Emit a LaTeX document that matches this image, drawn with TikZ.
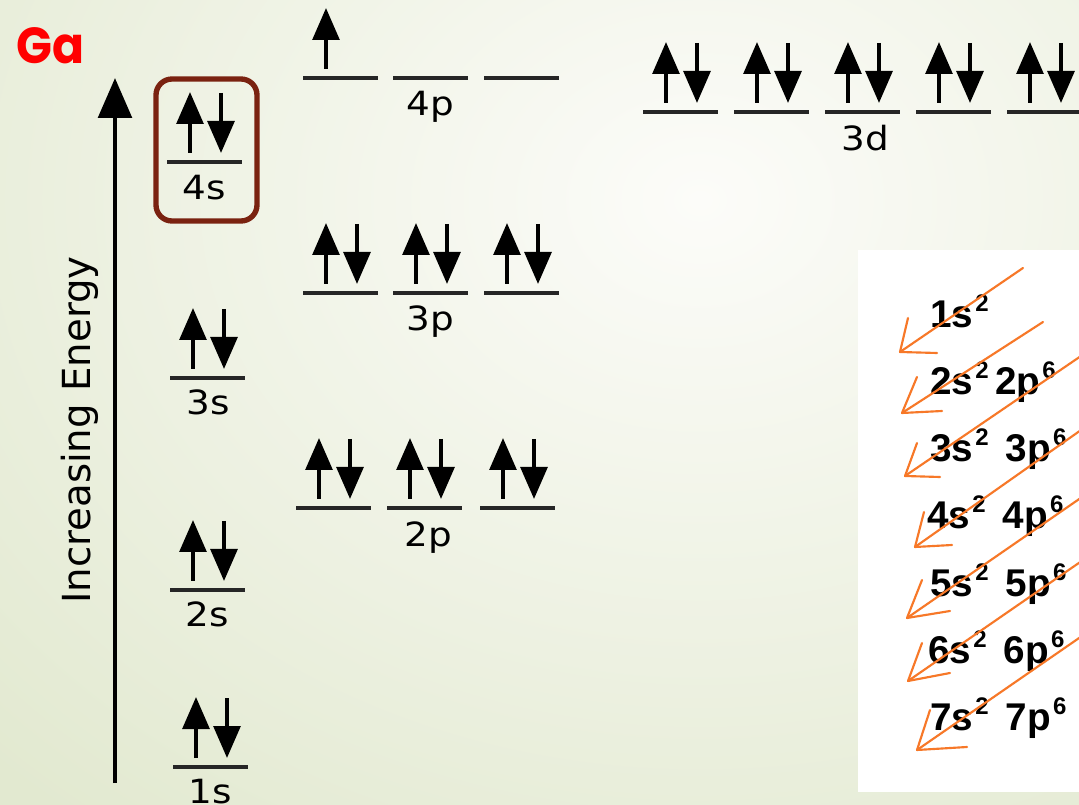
\documentclass[tikz,border=0pt]{standalone}
\usepackage{fontspec}
\usetikzlibrary{arrows.meta}
\newfontfamily\gafont{Poppins}[FakeStretch=0.93]
\newfontfamily\orbfont{DejaVu Sans}[FakeStretch=1.12]
\newfontfamily\energyfont{DejaVu Sans}
\newfontfamily\cfgfont{Liberation Sans}
\definecolor{gared}{RGB}{255,0,0}
\definecolor{boxred}{RGB}{122,34,16}
\definecolor{orarrow}{RGB}{247,120,40}
\definecolor{bgedge}{RGB}{226,233,208}
\definecolor{bginner}{RGB}{252,252,249}
\definecolor{levelgray}{RGB}{38,38,38}
\tikzset{
  levelline/.style={line width=3pt, draw=levelgray},
  spinup/.style={line width=3pt, draw=black, -{Triangle[length=24pt,width=20pt]}},
  spindown/.style={line width=3pt, draw=black, -{Triangle[length=24pt,width=20pt]}},
  orblabel/.style={font=\orbfont\fontsize{25}{25}\selectfont, text=black, inner sep=0pt, anchor=base},
  cfgrow/.style={font=\cfgfont\bfseries\fontsize{29}{29}\selectfont, text=black, inner sep=0pt, anchor=base west},
  orangeline/.style={draw=orarrow, line width=1.6pt, line cap=round, line join=round},
  energyaxis/.style={line width=3.6pt, draw=black, -{Triangle[length=30pt,width=25pt]}},
  boxstyle/.style={draw=boxred, line width=4pt, rounded corners=12pt}
}
\newcommand\orbital[4]{%
  \coordinate (#1-l) at (#2,#3);
  \coordinate (#1-r) at ({#2+75},#3);
  \draw[levelline] (#1-l) -- (#1-r);
  \ifnum#4>0
    \coordinate (#1-ua) at ({#2+23},{#3-9});
    \coordinate (#1-ub) at ({#2+23},{#3-70});
    \draw[spinup] (#1-ua) -- (#1-ub);
  \fi
  \ifnum#4>1
    \coordinate (#1-da) at ({#2+54},{#3-69});
    \coordinate (#1-db) at ({#2+54},{#3-9});
    \draw[spindown] (#1-da) -- (#1-db);
  \fi
}
\newcommand\cfgsup[1]{\hspace{1.5pt}\raisebox{12pt}{\fontsize{18}{18}\selectfont #1}}
\newcommand\oarrow[9]{%
  \coordinate (#1-s) at (#2,#3);
  \coordinate (#1-t) at (#4,#5);
  \coordinate (#1-a) at (#6,#7);
  \coordinate (#1-b) at (#8,#9);
  \draw[orangeline] (#1-s) -- (#1-t);
  \draw[orangeline] (#1-a) -- (#1-t) -- (#1-b);
}
\begin{document}
\begin{tikzpicture}[x=0.75pt,y=-0.75pt]
\clip (0,0) rectangle (1079,805);
\shade[inner color=bginner, outer color=bgedge] (-300,-600) rectangle (1700,1000);

% Ga
\node[font=\gafont\bfseries\fontsize{38}{38}\selectfont, text=gared, inner sep=0pt, anchor=base west] (ga) at (16,64) {Ga};

% energy axis
\coordinate (eaxis-bot) at (115,783);
\coordinate (eaxis-top) at (115,78);
\draw[energyaxis] (eaxis-bot) -- (eaxis-top);
\node[font=\energyfont\fontsize{29}{29}\selectfont, rotate=90, anchor=base, inner sep=0pt] (elabel) at (90,430) {Increasing Energy};

% s orbitals
\orbital{o1s}{173}{767}{2}
\orbital{o2s}{170}{590}{2}
\orbital{o3s}{170}{378}{2}
\orbital{o4s}{167}{162}{2}
\node[orblabel] (l1s) at (210,803) {1s};
\node[orblabel] (l2s) at (207,627) {2s};
\node[orblabel] (l3s) at (208,415) {3s};
\node[orblabel] (l4s) at (204,200) {4s};
\draw[boxstyle] (156,79) rectangle (257,221);

% p orbitals
\orbital{o2pa}{296}{508}{2}
\orbital{o2pb}{387}{508}{2}
\orbital{o2pc}{480}{508}{2}
\node[orblabel] (l2p) at (428,547) {2p};
\orbital{o3pa}{303}{293}{2}
\orbital{o3pb}{393}{293}{2}
\orbital{o3pc}{484}{293}{2}
\node[orblabel] (l3p) at (430,331) {3p};
\orbital{o4pa}{303}{78}{1}
\orbital{o4pb}{393}{78}{0}
\orbital{o4pc}{484}{78}{0}
\node[orblabel] (l4p) at (430,116) {4p};

% d orbitals
\orbital{o3da}{643}{112}{2}
\orbital{o3db}{734}{112}{2}
\orbital{o3dc}{825}{112}{2}
\orbital{o3dd}{916}{112}{2}
\orbital{o3de}{1007}{112}{2}
\node[orblabel] (l3d) at (865,151) {3d};

% aufbau panel
\fill[white] (858,250) rectangle (1100,792);
\node[cfgrow] (r1) at (930,328) {1s\cfgsup{2}};
\node[cfgrow] (r2) at (930,395) {2s\cfgsup{2}\hspace{5pt}2p\cfgsup{6}};
\node[cfgrow] (r3) at (930,462) {3s\cfgsup{2}\hspace{13pt}3p\cfgsup{6}};
\node[cfgrow] (r4) at (927,529) {4s\cfgsup{2}\hspace{13pt}4p\cfgsup{6}};
\node[cfgrow] (r5) at (930,596) {5s\cfgsup{2}\hspace{13pt}5p\cfgsup{6}};
\node[cfgrow] (r6) at (928,663) {6s\cfgsup{2}\hspace{13pt}6p\cfgsup{6}};
\node[cfgrow] (r7) at (930,730) {7s\cfgsup{2}\hspace{13pt}7p\cfgsup{6}};

\oarrow{a1}{1023}{268}{900}{352}{908}{318}{937}{353}
\oarrow{a2}{1043}{322}{902}{413}{917}{377}{942}{411}
\oarrow{a3}{1125}{326}{905}{476}{917}{443}{940}{477}
\oarrow{a4}{1135}{392}{915}{547}{924}{512}{952}{545}
\oarrow{a5}{1127}{466}{907}{618}{922}{580}{950}{611}
\oarrow{a6}{1128}{529}{908}{681}{922}{643}{950}{673}
\oarrow{a7}{1137}{598}{917}{750}{930}{710}{967}{747}
\end{tikzpicture}
\end{document}
